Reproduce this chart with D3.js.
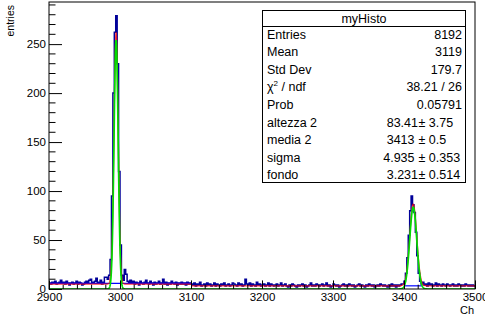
<!DOCTYPE html>
<html><head><meta charset="utf-8">
<script src="https://cdn.jsdelivr.net/npm/d3@7"></script>
<style>body{margin:0;background:#fff}svg{display:block}text{font-family:"Liberation Sans",Arial,Helvetica,sans-serif}</style>
</head><body>
<svg id="c" width="485" height="321"></svg>
<script>
// ---- data ----
const xRange = [2900, 3500];
const binWidth = 2;
const yMax = 293;
// counts per bin, left edge 2900, 2 channels per bin
const countsA = [6,5,7,6,8,5,6,7,9,6,7,5,8,6,4,6,7,5,6,8,5,7,6,4,5,7,8,6,9,10,7,6,8,11,7,6,9,5,7,12];        // 2900-2978
const peak1   = [12,10,14,30,95,200,262,279,230,120,45,14,9,20,15,8];                                 // 2980-3010
const countsB = [7,9,6,8,5,7,6,4,8,6,5,7,9,6,5,8,6,4,7,5,6,8,5,6,10,5,7,4,6,5,8,6,5,7,4,6,5,7,5,6,4,7,5,6]; // 3012-3098
const countsC = [5,4,6,3,5,4,7,3,4,5,3,6,4,5,3,4,6,3,5,4,3,5,4,6,3,4,5,3,4,6,
                 5,4,3,6,4,5,3,4,10,5,4,6,3,5,4,3,7,4,5,3,4,5,3,4,6,3,5,4,3,4,
                 5,3,4,6,3,4,5,3,2,4,3,5,4,3,2,4,3,4,5,3,4,2,3,4,6,3,4,3,5,4,
                 3,4,5,3,4,6,3,4,2,3,5,4,3,4,2,3,4,5,3,4,3,5,4,3,4,2,3,4,5,3,
                 4,3,2,4,3,5,4,3,4,2,3,4,3,5,4,3,4,3,2,4,3,5,3,4,2,4,3,4,5];                          // 3100-3396
const peak2   = [5,8,16,32,55,80,95,86,78,58,34,16,8,5];                                              // 3398-3424
const countsD = [7,4,5,3,6,4,5,3,4,6,3,5,4,3,5,4,3,5,4,3,4,5,3,4,3,5,4,3,4,3,5,4,3,4,3,4,3];          // 3426-3498
const counts = [...countsA, ...peak1, ...countsB, ...countsC, ...peak2, ...countsD];

// fit parameters [height, mean, sigma, background], range
const fitRed1   = {p:[257, 2994.5, 3.0, 5.0], range:[2900, 3100]};
const fitRed2   = {p:[83.41, 3413, 4.935, 3.231], range:[3100, 3500]};
const fitGreen  = {p:[[254, 2994.5, 2.9],[83.41, 3413, 4.935]], range:[2900, 3500]};
const blueLines = [{v:5.8, range:[2900, 3100]}, {v:3.231, range:[3400, 3426]}];

const statLabels = ["Entries","Mean","Std Dev","χ2 / ndf","Prob","altezza 2","media 2","sigma","fondo"];
const statValues = ["8192","3119","179.7","38.21 / 26","0.05791",["83.41","3.75"],["3413\u00A0","0.5"],["4.935\u00A0","0.353"],["3.231","0.514"]];

// ---- layout ----
const L=49, R=475, T=2, B=289;
const svg = d3.select("#c");
const x = d3.scaleLinear().domain(xRange).range([L,R]);
const y = d3.scaleLinear().domain([0,yMax]).range([B,T]);

svg.append("clipPath").attr("id","cp").append("rect").attr("x",L).attr("y",T).attr("width",R-L).attr("height",B-T);
const g = svg.append("g").attr("clip-path","url(#cp)");

// histogram step path
let d = "";
counts.forEach((c,i)=>{
  const x0 = x(xRange[0]+i*binWidth), x1 = x(xRange[0]+(i+1)*binWidth);
  d += (i===0 ? `M${x0},${y(c)}` : `V${y(c)}`) + `H${x1}`;
});

const gauss = (p,t)=>p[0]*Math.exp(-0.5*((t-p[1])/p[2])**2);
function curve(fn, range, color, w, op){
  const pts = d3.range(range[0], range[1]+0.01, 0.25).map(t=>[x(t), y(fn(t))]);
  g.append("path").attr("d", d3.line()(pts)).attr("fill","none").attr("stroke",color).attr("stroke-width",w).attr("stroke-opacity",op||1);
}
g.append("path").attr("d",d).attr("fill","none").attr("stroke","#000099").attr("stroke-width",1.5);
blueLines.forEach(b=>curve(()=>b.v, b.range, "#0000ff", 1.2));
curve(t=>gauss(fitRed1.p,t)+fitRed1.p[3], fitRed1.range, "#ff0000", 1.3, 0.75);
curve(t=>gauss(fitRed2.p,t)+fitRed2.p[3], fitRed2.range, "#ff0000", 1.3, 0.75);
curve(t=>gauss(fitGreen.p[0],t)+gauss(fitGreen.p[1],t), fitGreen.range, "#00dd00", 1.7);

// frame
svg.append("rect").attr("x",L).attr("y",T).attr("width",R-L).attr("height",B-T).attr("fill","none").attr("stroke","#000").attr("stroke-width",1);

// axes
const yAxis = d3.axisRight(y).tickValues(d3.range(0,291,50)).tickSize(13).tickFormat(d3.format("d"));
const ya = svg.append("g").attr("transform",`translate(${L},0)`).call(yAxis);
ya.select(".domain").remove();
ya.selectAll("text").attr("x",-3).attr("text-anchor","end").attr("font-size",11.5).attr("fill","#000");
svg.append("g").selectAll("line").data(d3.range(0,291,10).filter(v=>v%50)).join("line")
  .attr("x1",L).attr("x2",L+6.5).attr("y1",v=>y(v)).attr("y2",v=>y(v)).attr("stroke","#000");

const xAxis = d3.axisTop(x).tickValues(d3.range(2900,3501,100)).tickSize(8.6).tickFormat(d3.format("d"));
const xa = svg.append("g").attr("transform",`translate(0,${B})`).call(xAxis);
xa.select(".domain").remove();
xa.selectAll("text").attr("y",3.5).attr("dy","0.71em").attr("font-size",11.5).attr("fill","#000").attr("text-anchor","middle");
svg.append("g").selectAll("line").data(d3.range(2900,3501,20).filter(v=>v%100)).join("line")
  .attr("x1",v=>x(v)).attr("x2",v=>x(v)).attr("y1",B).attr("y2",B-4.3).attr("stroke","#000");

// axis titles
svg.append("text").attr("transform",`translate(14,${T+3}) rotate(-90)`).attr("text-anchor","end").attr("font-size",10.5).text("entries");
svg.append("text").attr("x",R-1).attr("y",314).attr("text-anchor","end").attr("font-size",11).text("Ch");

// stats box
const bx=262.5, by=10.5, bw=203, bh=172;
svg.append("rect").attr("x",bx).attr("y",by).attr("width",bw).attr("height",bh).attr("fill","#fff").attr("stroke","#000");
svg.append("line").attr("x1",bx).attr("x2",bx+bw).attr("y1",26.5).attr("y2",26.5).attr("stroke","#000");
svg.append("text").attr("x",bx+bw/2).attr("y",22.5).attr("text-anchor","middle").attr("font-size",12.5).text("myHisto");
const rowY = i=>38.5+i*17.6;
statLabels.forEach((lab,i)=>{
  const t = svg.append("text").attr("x",267).attr("y",rowY(i)).attr("font-size",12.5);
  if(lab.startsWith("χ2")){ t.text("χ"); t.append("tspan").attr("font-size",8).attr("dy",-5).text("2"); t.append("tspan").attr("dy",5).text(" / ndf"); }
  else t.text(lab);
});
statValues.forEach((v,i)=>{
  if(Array.isArray(v)){
    svg.append("text").attr("x",418).attr("y",rowY(i)).attr("text-anchor","end").attr("font-size",12.5).text(v[0]);
    svg.append("text").attr("x",418.5).attr("y",rowY(i)).attr("font-size",12.5).text("\u00B1 "+v[1]);
  } else {
    svg.append("text").attr("x",462).attr("y",rowY(i)).attr("text-anchor","end").attr("font-size",12.5).text(v);
  }
});
</script>
</body></html>
